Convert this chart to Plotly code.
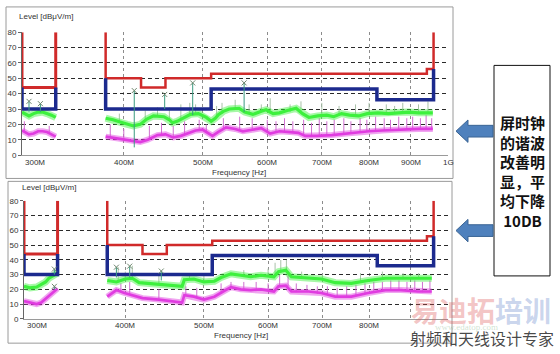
import math
import plotly.graph_objects as go

W, H = 560, 354

# ---------------- data ----------------
x_tick_vals = [300, 400, 500, 600, 700, 800, 900, 1000]
x_tick_text = ["300M", "400M", "500M", "600M", "700M", "800M", "900M", "1G"]
y_tick_vals = [0, 10, 20, 30, 40, 50, 60, 70, 80]

# limit lines (MHz, dBuV/m)
red_seg1_f = [300, 300, 330, 330]
red_seg1_l = [80, 44, 44, 80]
blue_seg1_f = [300, 300, 330, 330]
blue_seg1_l = [44, 30, 30, 44]
red_seg2_f = [380, 380, 420, 420, 450, 450, 512, 512, 942, 942, 960, 960]
red_seg2_l = [80, 50, 50, 44, 44, 50, 50, 53, 53, 56, 56, 80]
blue_seg2_f = [380, 380, 512, 512, 818, 818, 960, 960]
blue_seg2_l = [50, 30, 30, 43, 43, 36, 36, 56]

# ---- top chart (before) ----
top_pk1_f = [300, 303, 306, 310, 314, 318, 322, 326, 330]
top_pk1_l = [28, 26.5, 25.5, 27, 28, 28, 27, 26, 24.5]
top_av1_f = [300, 303, 306, 310, 314, 318, 322, 326, 330]
top_av1_l = [16, 14.5, 13.5, 14, 15.5, 15.5, 15, 13.5, 12]
top_pk2_f = [380, 388, 396, 404, 411, 419, 427, 435, 448, 455, 459, 465, 471, 483, 494, 505,
             512, 518, 523, 530, 539, 554, 563, 576, 590, 598, 610, 621, 635, 651, 663, 675,
             692, 710, 724, 740, 757, 777, 796, 820, 845, 870, 895, 920, 940, 958]
top_pk2_l = [24, 23, 21.5, 20, 19, 20, 23.5, 25.5, 25, 23, 21, 22, 23.5, 26.5, 27, 24.5,
             22, 24, 26.5, 28.5, 30, 30.5, 28, 26.5, 28.5, 29.5, 27, 27.5, 29, 30.5, 27, 24.5,
             25.5, 26, 25, 27, 26, 25.5, 27, 27.5, 27, 27.5, 28, 27.5, 27.5, 27.5]
top_av2_f = [380, 390, 400, 411, 419, 428, 440, 450, 460, 470, 480, 490, 500, 508, 514, 522,
             534, 548, 560, 575, 590, 605, 621, 640, 655, 668, 690, 720, 750, 780, 800, 830,
             860, 890, 920, 958]
top_av2_l = [12, 11, 10, 9, 8.5, 10, 13, 13.5, 11.5, 12.5, 14.5, 16, 16.5, 14, 12.5, 15,
             18, 17, 15.5, 16.5, 17.5, 14, 15.5, 15, 14.5, 12.5, 12.5, 13, 14, 15, 15.5, 16,
             16.5, 17, 17, 17]
top_pk_spk_f = [395, 425, 440, 455, 470, 482, 490, 520, 528, 548, 570, 590, 605, 640, 660,
                700, 735, 770, 800, 840, 860, 880, 920, 945]
top_pk_spk_b = [22, 23, 25, 23, 23, 26, 27, 25, 27, 30, 27, 28, 27, 28, 28,
                26, 26, 26, 27, 27, 27, 27, 27, 27]
top_pk_spk_t = [27, 29, 31, 31, 33, 34, 33, 32, 34, 36, 33, 33, 37, 33, 35,
                34, 32, 33, 34, 33, 32, 34, 33, 35]
top_av_spk_f = [302, 324, 385, 400, 430, 445, 460, 475, 495, 505, 530, 555, 575, 600, 615,
                630, 645, 665, 680, 695, 710, 725, 745, 760, 780, 795, 815, 835, 850, 870,
                890, 905, 925, 940, 955]
top_av_spk_b = [15, 14, 11, 10, 11, 13, 11, 13, 16, 15, 17, 16, 16, 15, 15,
                15, 15, 13, 12, 13, 13, 13, 14, 14, 15, 15, 16, 16, 16, 17,
                17, 17, 17, 17, 17]
top_av_spk_t = [22, 19, 20, 17, 19, 21, 19, 22, 23, 20, 24, 25, 24, 23, 22,
                24, 22, 23, 21, 24, 22, 23, 24, 22, 24, 23, 25, 24, 23, 25,
                24, 25, 24, 26, 24]
top_mk_f = [306, 316, 412, 449, 486, 562]
top_mk_l = [35, 33.5, 42, 39.5, 47, 47]
top_mk_b = [28, 28, 5, 30, 26, 28]

# ---- bottom chart (after) ----
bot_pk1_f = [300, 305, 311, 315, 319, 322, 326, 330]
bot_pk1_l = [22, 21, 21.5, 23, 25, 27.5, 29.5, 31]
bot_av1_f = [300, 305, 311, 315, 319, 322, 326, 330]
bot_av1_l = [12, 11, 10, 11, 13.5, 15.5, 18, 20.5]
bot_pk2_f = [380, 390, 400, 408, 416, 440, 466, 470, 473, 486, 500, 515, 525, 540, 555, 571,
             588, 610, 618, 631, 641, 673, 698, 726, 760, 797, 837, 875, 918, 955]
bot_pk2_l = [26, 25, 27, 27.5, 24.5, 23.5, 22.5, 22, 26.5, 27, 25, 25.5, 28, 30.5, 29.5, 28.5,
             29.5, 28.5, 32, 33, 28.5, 27.5, 27, 24.5, 24, 26, 27.5, 27.5, 27.5, 27.5]
bot_av2_f = [380, 390, 399, 408, 420, 440, 466, 470, 473, 486, 500, 515, 530, 540, 555, 571,
             588, 610, 618, 631, 641, 673, 698, 726, 760, 797, 837, 875, 918, 955]
bot_av2_l = [15, 19.5, 17.5, 16, 14, 13, 11.5, 11, 16, 15, 13, 15, 19, 21.5, 20, 19.5,
             20, 18.5, 22, 22.5, 18.5, 18.5, 17.5, 15, 15, 17.5, 19.5, 19.5, 18.5, 18.5]
bot_pk_spk_f = [392, 400, 408, 440, 480, 500, 560, 600, 612, 622, 632, 660, 700, 780, 830, 880, 920]
bot_pk_spk_b = [25, 27, 27, 23, 27, 25, 29, 29, 29, 31, 32, 28, 27, 25, 27, 27, 27]
bot_pk_spk_t = [35, 32, 36, 31, 31, 30, 33, 34, 38, 40, 40, 32, 30, 31, 32, 31, 31]
bot_av_spk_f = [395, 405, 440, 475, 490, 525, 540, 560, 580, 600, 620, 635, 650, 670, 690,
                710, 730, 750, 770, 790, 810, 830, 850, 870, 890, 910, 930, 950]
bot_av_spk_b = [18, 16, 13, 16, 15, 18, 21, 20, 20, 19, 22, 22, 18, 18, 17,
                16, 15, 15, 16, 17, 18, 19, 19, 19, 19, 19, 18, 18]
bot_av_spk_t = [24, 25, 20, 22, 21, 24, 25, 25, 25, 24, 30, 32, 24, 23, 22,
                22, 21, 22, 23, 24, 25, 25, 26, 26, 25, 26, 25, 26]
bot_mk_f = [327, 327, 390, 405, 443]
bot_mk_l = [33.7, 22, 35, 35.7, 32.4]
bot_mk_b = [30, 20, 28, 28, 26]

# ---------------- helpers ----------------
def pxx(x):
    return x / W

def pyy(y):
    return 1 - y / H

RED = "#d02a2a"
BLUE = "#1c2a8e"
GREEN = "#3df03d"
MAG = "#e03ce0"

fig = go.Figure()


def band(f, l, color, width, xa, ya):
    fig.add_trace(go.Scatter(x=f, y=l, mode="lines", xaxis=xa, yaxis=ya,
                             line=dict(color=color, width=width), opacity=0.45,
                             hoverinfo="skip", showlegend=False))
    fig.add_trace(go.Scatter(x=f, y=l, mode="lines", xaxis=xa, yaxis=ya,
                             line=dict(color=color, width=width * 0.45),
                             hoverinfo="skip", showlegend=False))


def spikes(f, b, t, color, xa, ya, width=1):
    xs, ys = [], []
    for fi, bi, ti in zip(f, b, t):
        xs += [fi, fi, None]
        ys += [bi, ti, None]
    fig.add_trace(go.Scatter(x=xs, y=ys, mode="lines", xaxis=xa, yaxis=ya,
                             line=dict(color=color, width=width),
                             hoverinfo="skip", showlegend=False))


def limit(f, l, color, width, xa, ya):
    fig.add_trace(go.Scatter(x=f, y=l, mode="lines", xaxis=xa, yaxis=ya,
                             line=dict(color=color, width=width),
                             hoverinfo="skip", showlegend=False))


def markers(f, l, b, xa, ya):
    spikes(f, b, l, "#3a9a80", xa, ya, 1)
    fig.add_trace(go.Scatter(x=f, y=l, mode="markers", xaxis=xa, yaxis=ya,
                             marker=dict(symbol="x-thin-open", size=5, color="#6f876f",
                                         line=dict(color="#6f876f", width=1)),
                             hoverinfo="skip", showlegend=False))


panels = [
    ("x", "y", [(top_av1_f, top_av1_l), (top_av2_f, top_av2_l)],
     [(top_pk1_f, top_pk1_l), (top_pk2_f, top_pk2_l)],
     (top_pk_spk_f, top_pk_spk_b, top_pk_spk_t), (top_av_spk_f, top_av_spk_b, top_av_spk_t),
     (top_mk_f, top_mk_l, top_mk_b)),
    ("x2", "y2", [(bot_av1_f, bot_av1_l), (bot_av2_f, bot_av2_l)],
     [(bot_pk1_f, bot_pk1_l), (bot_pk2_f, bot_pk2_l)],
     (bot_pk_spk_f, bot_pk_spk_b, bot_pk_spk_t), (bot_av_spk_f, bot_av_spk_b, bot_av_spk_t),
     (bot_mk_f, bot_mk_l, bot_mk_b)),
]

for xa, ya, avs, pks, pkspk, avspk, mk in panels:
    spikes(*pkspk, "#a9c2a9", xa, ya)
    spikes(*avspk, "#d070d0", xa, ya)
    for f, l in avs:
        band(f, l, MAG, 6, xa, ya)
    for f, l in pks:
        band(f, l, GREEN, 7, xa, ya)
    limit(red_seg1_f, red_seg1_l, RED, 3, xa, ya)
    limit(red_seg2_f, red_seg2_l, RED, 2.5, xa, ya)
    limit(blue_seg1_f, blue_seg1_l, BLUE, 3.5, xa, ya)
    limit(blue_seg2_f, blue_seg2_l, BLUE, 3.5, xa, ya)
    markers(*mk, xa, ya)

AXFONT = dict(family="Liberation Sans, Arial, sans-serif", size=8, color="#333")

xcommon = dict(type="log", range=[math.log10(300), 3], tickvals=x_tick_vals[1:-1],
               showticklabels=False, showgrid=True, gridcolor="#8c8c8c",
               griddash="3px,3px", gridwidth=1, showline=True, linecolor="#9a9a9a",
               zeroline=False, fixedrange=True)
ycommon = dict(range=[0, 80], tickvals=y_tick_vals, showgrid=True, gridcolor="#2a2a2a",
               griddash="4px,3px", gridwidth=1, showline=True, linecolor="#666",
               ticks="outside", ticklen=3, tickcolor="#666", tickfont=AXFONT,
               zeroline=False, fixedrange=True)

fig.update_layout(
    width=W, height=H, margin=dict(l=0, r=0, t=0, b=0),
    paper_bgcolor="white", plot_bgcolor="white", showlegend=False,
    xaxis=dict(domain=[pxx(22), pxx(448)], anchor="y", **xcommon),
    yaxis=dict(domain=[pyy(155), pyy(29)], anchor="x", **ycommon),
    xaxis2=dict(domain=[pxx(24), pxx(448)], anchor="y2", **xcommon),
    yaxis2=dict(domain=[pyy(323), pyy(202)], anchor="x2", **ycommon),
)

shapes = []
# right edge dashed lines at 1G
for xr, yr in (("x", "y"), ("x2", "y2")):
    shapes.append(dict(type="line", xref=xr, yref=yr, x0=3, x1=3, y0=0, y1=80,
                       line=dict(color="#222", width=1, dash="4px,3px")))
# frames
shapes.append(dict(type="rect", xref="paper", yref="paper", x0=pxx(6), x1=pxx(453),
                   y0=pyy(179), y1=pyy(3), line=dict(color="#9a9a9a", width=1)))
shapes.append(dict(type="rect", xref="paper", yref="paper", x0=pxx(8), x1=pxx(452),
                   y0=pyy(348), y1=pyy(182), line=dict(color="#9a9a9a", width=1)))
# text box
shapes.append(dict(type="rect", xref="paper", yref="paper", x0=pxx(494), x1=pxx(550),
                   y0=pyy(279), y1=pyy(63), line=dict(color="#111", width=1),
                   fillcolor="white"))
# arrows
for cy in (130.5, 232.5):
    pts = [(456, cy), (468, cy - 11.5), (468, cy - 6), (493, cy - 6), (493, cy + 6),
           (468, cy + 6), (468, cy + 11.5)]
    path = "M " + " L ".join(f"{pxx(a):.5f},{pyy(b):.5f}" for a, b in pts) + " Z"
    shapes.append(dict(type="path", xref="paper", yref="paper", path=path,
                       fillcolor="#4f81bd", line=dict(color="#3a6494", width=1)))
fig.update_layout(shapes=shapes)

ann = []
# x tick labels
for (xr, yr_px), show in ((("x", 163), x_tick_text), (("x2", 330), x_tick_text[:-2])):
    for v, t in zip(x_tick_vals, show):
        ann.append(dict(x=math.log10(v), xref=xr, y=pyy(yr_px), yref="paper",
                        text=t, showarrow=False, font=AXFONT,
                        xanchor="left" if v == 300 else "center", yanchor="middle",
                        xshift=1 if v == 300 else 0))
# axis titles
for x, y, t in ((17, 13, "Level [dBμV/m]"), (210, 173, "Frequency [Hz]"),
                (20, 188, "Level [dBμV/m]"), (212, 340, "Frequency [Hz]")):
    ann.append(dict(x=pxx(x), y=pyy(y), xref="paper", yref="paper", text=t,
                    showarrow=False, font=AXFONT, xanchor="left", yanchor="middle"))
# side note
ann.append(dict(x=pxx(522), y=pyy(172), xref="paper", yref="paper",
                text="<b>屏时钟<br>的谐波<br>改善明<br>显，平<br>均下降<br>10DB</b>",
                showarrow=False, align="center", xanchor="center", yanchor="middle",
                font=dict(family="Noto Sans CJK SC, sans-serif", size=15, color="#111")))
# watermark
wm = [
    (466, 331, "www.edatop.com", dict(family="Liberation Serif", size=9,
                                      color="rgba(120,170,120,0.35)")),
    (481, 314, "<b><span style='color:rgba(222,90,90,0.6)'>易迪拓</span>"
               "<span style='color:rgba(90,125,200,0.55)'>培训</span></b>",
     dict(family="Noto Sans CJK SC", size=28, color="rgba(222,90,90,0.6)")),
    (482, 343, "射频和天线设计专家", dict(family="Noto Sans CJK SC", size=16,
                                         color="rgba(40,40,40,0.85)")),
]
for x, y, t, f in wm:
    ann.append(dict(x=pxx(x), y=pyy(y), xref="paper", yref="paper", text=t,
                    showarrow=False, xanchor="center", yanchor="middle", font=f))
fig.update_layout(annotations=ann)

fig.write_html("out.html")
